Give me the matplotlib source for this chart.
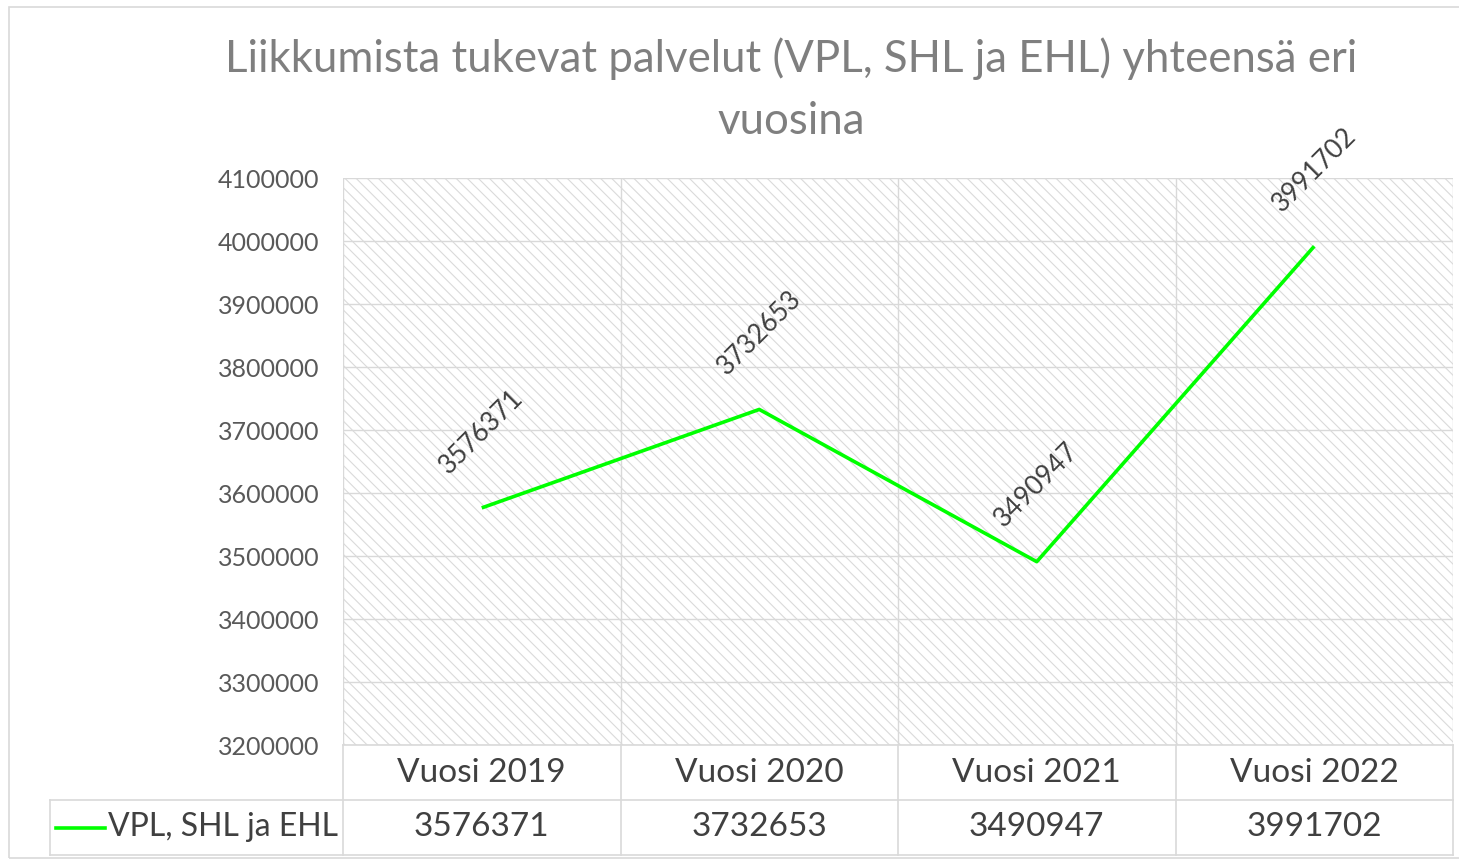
import matplotlib
matplotlib.use("Agg")
import matplotlib.pyplot as plt
from matplotlib.patches import Rectangle
from matplotlib.lines import Line2D

title = "Liikkumista tukevat palvelut (VPL, SHL ja EHL) yhteensä eri\nvuosina"
categories = ["Vuosi 2019", "Vuosi 2020", "Vuosi 2021", "Vuosi 2022"]
series_name = "VPL, SHL ja EHL"
values = [3576371, 3732653, 3490947, 3991702]
yticks = [3200000, 3300000, 3400000, 3500000, 3600000, 3700000,
          3800000, 3900000, 4000000, 4100000]

GREEN = "#00ff00"
GRID = "#d9d9d9"
TEXT = "#404040"

plt.rcParams["font.family"] = ["Lato", "DejaVu Sans"]
plt.rcParams["hatch.linewidth"] = 0.8

W, H = 1459, 860
fig = plt.figure(figsize=(W / 100, H / 100), dpi=100)
fig.patch.set_facecolor("white")

# outer chart border
fig.add_artist(Rectangle((9 / W, 1 - 858 / H), 1.1, (858 - 7) / H,
                         transform=fig.transFigure, fill=False,
                         edgecolor=GRID, linewidth=1.2))

L, R, T, B = 343, 1453, 178, 745
ax = fig.add_axes([L / W, 1 - B / H, (R - L) / W, (B - T) / H])
ax.set_xlim(-0.5, len(categories) - 0.5)
ax.set_ylim(yticks[0], yticks[-1])

# hatched plot area
ax.add_patch(Rectangle((0, 0), 1, 1, transform=ax.transAxes,
                       facecolor="white", edgecolor="#dadada", linewidth=0,
                       hatch="\\\\\\", zorder=0))

for s in ax.spines.values():
    s.set_visible(False)

ax.set_yticks(yticks)
ax.set_yticklabels([str(v) for v in yticks])
ax.tick_params(axis="y", length=0, pad=17, labelsize=18, labelcolor="#595959")
ax.set_xticks([])
for v in yticks:
    ax.axhline(v, color=GRID, linewidth=1.0, zorder=1)
for i in range(len(categories) + 1):
    ax.axvline(i - 0.5, color=GRID, linewidth=1.0, zorder=1)

x = list(range(len(categories)))
ax.plot(x, values, color=GREEN, linewidth=2.6, zorder=3, solid_capstyle="butt")

for xi, v in zip(x, values):
    ax.annotate(str(v), (xi, v), xytext=(0, 55), textcoords="offset points",
                rotation=45, ha="center", va="center", fontsize=19,
                color=TEXT, rotation_mode="anchor", annotation_clip=False)

fig.suptitle(title, x=(228 + 1355) / 2 / W, y=1 - 37 / H, fontsize=31.5,
             color="#7f7f7f", linespacing=1.65, va="top")

# data table below the axes
tr = ax.get_xaxis_transform()
row1 = -(800 - B) / (B - T)
row2 = -(855 - B) / (B - T)
unit = (R - L) / len(categories)
left_x = -0.5 + (50 - L) / unit
kw = dict(transform=tr, color=GRID, linewidth=1.2, clip_on=False)
ax.add_line(Line2D([-0.5, 3.5], [0, 0], **kw))
ax.add_line(Line2D([left_x, 3.5], [row1, row1], **kw))
ax.add_line(Line2D([left_x, 3.5], [row2, row2], **kw))
ax.add_line(Line2D([left_x, left_x], [row1, row2], **kw))
for i in range(len(categories) + 1):
    ax.add_line(Line2D([i - 0.5, i - 0.5], [0, row2], **kw))

for xi, cat, v in zip(x, categories, values):
    ax.text(xi, row1 / 2, cat, transform=tr, ha="center", va="center",
            fontsize=24, color=TEXT, clip_on=False)
    ax.text(xi, (row1 + row2) / 2, str(v), transform=tr, ha="center",
            va="center", fontsize=24, color=TEXT, clip_on=False)

# legend key inside the table
kx0 = -0.5 + (56 - L) / unit
kx1 = -0.5 + (105 - L) / unit
ym = (row1 + row2) / 2
ax.add_line(Line2D([kx0, kx1], [ym, ym], transform=tr, color=GREEN,
                   linewidth=2.6, clip_on=False))
ax.text(-0.5 - (5 / unit), ym, series_name, transform=tr, ha="right",
        va="center", fontsize=23, color=TEXT, clip_on=False)

fig.savefig("out.png", dpi=100)
